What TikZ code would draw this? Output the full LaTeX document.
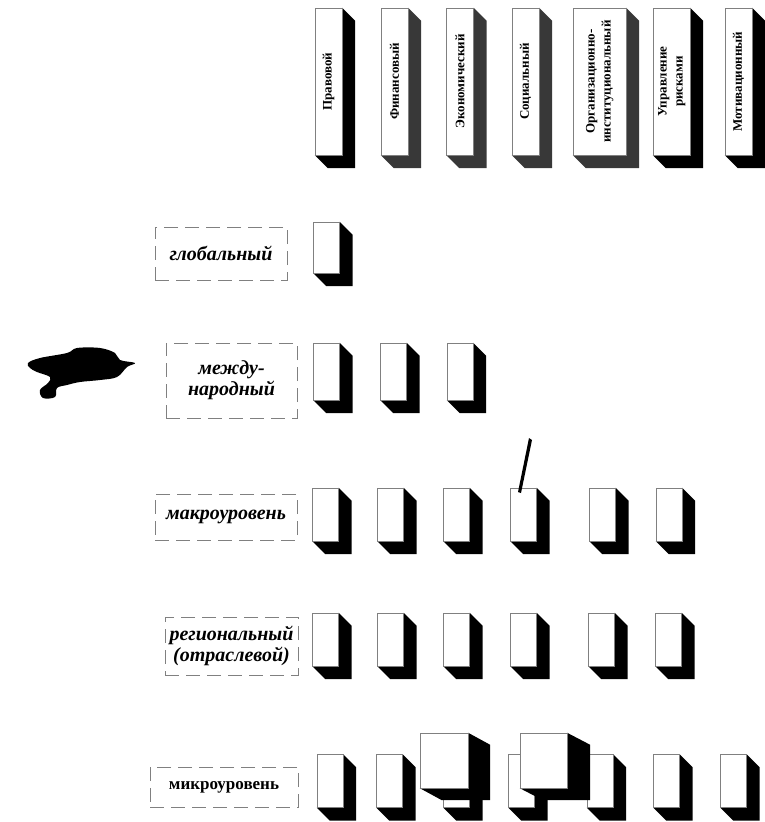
\documentclass[tikz,border=0pt]{standalone}
\usepackage{fontspec}
\setmainfont{Liberation Serif}
\usetikzlibrary{calc}

\tikzset{
  extrude/.code 2 args={\gdef\cubedx{#1}\gdef\cubedy{#2}},
  sidefill/.code={\gdef\cubecol{#1}},
  cube/.style={draw=black!50, line width=0.4pt, fill=white, inner sep=0pt,
    minimum width=26pt, minimum height=53pt, extrude={13}{13}, sidefill=black,
    append after command={\pgfextra{
      \fill[\cubecol] (\tikzlastnode.north east) -- ++(\cubedx,\cubedy)
        -- ($(\tikzlastnode.south east)+(\cubedx,\cubedy)$)
        -- ($(\tikzlastnode.south west)+(\cubedx,\cubedy)$)
        -- (\tikzlastnode.south west) -- (\tikzlastnode.south east) -- cycle;}}},
  cellhi/.style={cube, minimum height=57pt},
  head/.style={cube, minimum width=27pt, minimum height=147pt,
    font=\bfseries\fontsize{13}{16}\selectfont},
  grainy/.style={sidefill=black!78},
  level/.style={draw=black!50, dash pattern=on 14pt off 7pt, line width=0.5pt,
    inner sep=0pt, align=center, font=\bfseries\itshape\fontsize{20}{21}\selectfont},
}

\begin{document}
\begin{tikzpicture}[x=1pt, y=-1pt]
			\useasboundingbox (0,0) rectangle (765,822);

			% columns
			\node[head] (h1) at (328.5,81.5) {\rotatebox{90}{Правовой}};
			\node[head, grainy] (h2) at (394.5,81.5) {\rotatebox{90}{Финансовый}};
			\node[head, grainy] (h3) at (460,81.5) {\rotatebox{90}{Экономический}};
			\node[head, grainy] (h4) at (525.5,81.5) {\rotatebox{90}{Социальный}};
			\node[head, grainy, minimum width=53pt] (h5) at (599.5,81.5)
				{\rotatebox{90}{\begin{tabular}{@{}c@{}}Организационно-\\институциональный\end{tabular}}};
			\node[head, minimum width=37pt] (h6) at (671.5,81.5)
				{\rotatebox{90}{\begin{tabular}{@{}c@{}}Управление\\рисками\end{tabular}}};
			\node[head] (h7) at (738.5,81.5) {\rotatebox{90}{Мотивационный}};

			% levels
			\node[level, minimum width=132pt, minimum height=53pt] (lglob) at (221,253.5) {глобальный};
			\node[level, minimum width=131pt, minimum height=75pt] (lintl) at (231.5,380.5) {между-\\народный};
			\node[level, minimum width=142pt, minimum height=46pt] (lmacro) at (226,517) {макроуровень};
			\node[level, minimum width=133pt, minimum height=58pt] (lreg) at (231.5,646) {региональный\\(отраслевой)};
			\node[level, font=\bfseries\fontsize{17}{19}\selectfont, minimum width=148pt, minimum height=40pt] (lmicro) at (224,787) {микроуровень};

			\node[cube, minimum height=51pt] (glob1) at (326.5,247.5) {};

			\node[cellhi] (intl1) at (326.5,371.5) {};
			\node[cellhi] (intl2) at (393.5,371.5) {};
			\node[cellhi] (intl3) at (460,371.5) {};

			\node[cube] (macro1) at (325.5,514.5) {};
			\node[cube] (macro2) at (390.5,514.5) {};
			\node[cube] (macro3) at (456.5,514.5) {};
			\node[cube] (macro4) at (523.5,514.5) {};
			\node[cube] (macro5) at (602.5,514.5) {};
			\node[cube] (macro6) at (669,514.5) {};

			\node[cube] (reg1) at (325.5,639.5) {};
			\node[cube] (reg2) at (390.5,639.5) {};
			\node[cube] (reg3) at (456.5,639.5) {};
			\node[cube] (reg4) at (523.5,639.5) {};
			\node[cube] (reg5) at (601.5,639.5) {};
			\node[cube] (reg6) at (668.5,639.5) {};

			\node[cube] (micro1) at (330,781) {};
			\node[cube] (micro2) at (389.5,781) {};
			\node[cube] (micro3) at (456.5,781) {};
			\node[cube] (micro4) at (521.5,781) {};
			\node[cube] (micro5) at (600,781) {};
			\node[cube] (micro6) at (666.5,781) {};
			\node[cube] (micro7) at (733.5,781) {};
			\node[cube, minimum width=48pt, minimum height=55pt, extrude={22}{12}] (bigA) at (444,760.5) {};
			\node[cube, minimum width=47pt, minimum height=55pt, extrude={23}{12}] (bigB) at (543.5,760.5) {};

			% map and pen mark
			\fill[black] plot[smooth cycle, tension=0.6] coordinates {(28,363) (40,358) (67,353) (77,348) (100,348) (115,353) (120,360) (135,363) (127,367) (117,377) (100,380) (80,382) (67,385) (57,388) (55,397) (43,398) (40,390) (48,383) (50,377) (37,372) (30,368)};
			\fill[black] (529,438) -- (532,440) -- (521,493) -- (518,492) -- cycle;

		\end{tikzpicture}
\end{document}
